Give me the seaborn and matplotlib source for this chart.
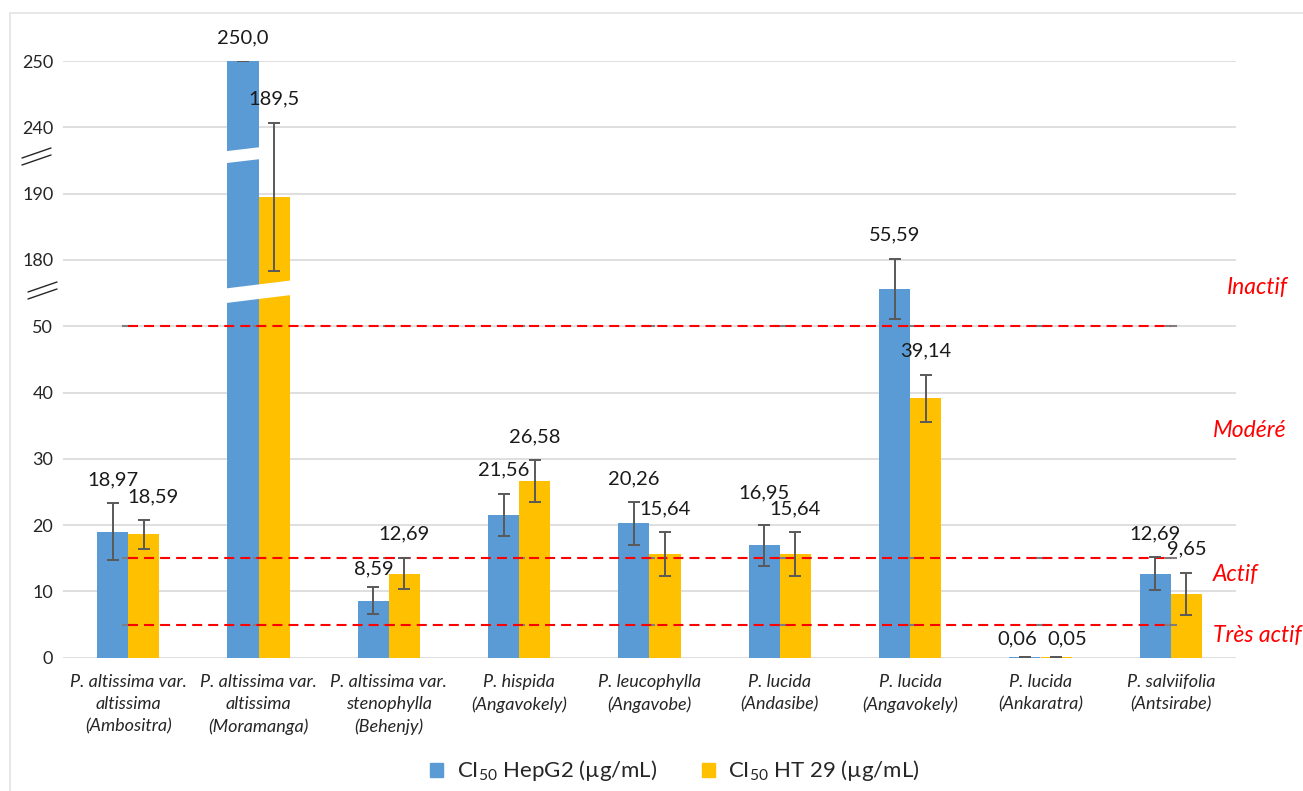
import numpy as np
import pandas as pd
import matplotlib
matplotlib.use("Agg")
import matplotlib.pyplot as plt
import seaborn as sns
from matplotlib.patches import Patch, Polygon, Rectangle
from matplotlib.lines import Line2D

# donnees
especes = [
    "P. altissima var.\naltissima\n(Ambositra)",
    "P. altissima var.\naltissima\n(Moramanga)",
    "P. altissima var.\nstenophylla\n(Behenjy)",
    "P. hispida\n(Angavokely)",
    "P. leucophylla\n(Angavobe)",
    "P. lucida\n(Andasibe)",
    "P. lucida\n(Angavokely)",
    "P. lucida\n(Ankaratra)",
    "P. salviifolia\n(Antsirabe)",
]
hepg2 = [18.97, 250.0, 8.59, 21.56, 20.26, 16.95, 55.59, 0.06, 12.69]
hepg2_err = [4.3, 0.0, 2.06, 3.17, 3.2, 3.14, 4.55, 0.0, 2.44]
ht29 = [18.59, 189.5, 12.69, 26.58, 15.64, 15.64, 39.14, 0.05, 9.65]
ht29_err = [2.15, 11.2, 2.4, 3.17, 3.27, 3.27, 3.52, 0.0, 3.14]
series = ["CI$_{50}$ HepG2 (µg/mL)", "CI$_{50}$ HT 29 (µg/mL)"]
tick_labels = ["0", "10", "20", "30", "40", "50", "180", "190", "240", "250"]
seuils = [50, 15, 5]
zones = ["Inactif", "Modéré", "Actif", "Très actif"]

BLEU = "#5B9BD5"
JAUNE = "#FFC000"
ROUGE = "#FF0000"
GRIS = "#595959"


def axe_coupe(v):
    # axe interrompu : 0-50, puis 180-190, puis 240-250
    if v <= 60:
        return v / 10
    if v < 220:
        return 6 + (v - 180) / 10
    return 8 + (v - 240) / 10


def etiquette(v):
    s = f"{v:.1f}" if v >= 100 else f"{v:.2f}"
    return s.replace(".", ",")


df = pd.DataFrame({
    "espece": especes * 2,
    "serie": [series[0]] * len(especes) + [series[1]] * len(especes),
    "valeur": hepg2 + ht29,
    "erreur": hepg2_err + ht29_err,
})
df["affiche"] = df["valeur"].apply(axe_coupe)

sns.set_style("white")
plt.rcParams["font.family"] = ["Lato", "DejaVu Sans"]
plt.rcParams["mathtext.fontset"] = "custom"
plt.rcParams["mathtext.rm"] = "Lato"
plt.rcParams["mathtext.it"] = "Lato:italic"

fig = plt.figure(figsize=(13.03, 7.91), dpi=100)
ax = fig.add_axes([63 / 1303, 133.3 / 791, 1173 / 1303, 596.7 / 791])

sns.barplot(data=df, x="espece", y="affiche", hue="serie", palette=[BLEU, JAUNE],
            width=0.476, errorbar=None, saturation=1, legend=False, linewidth=0, ax=ax)

ax.set_ylim(0, 9)
ax.set_xlim(-0.5, 8.5)
ax.set_yticks(range(10))
ax.set_yticklabels(tick_labels, fontsize=13, color="#262626")
ax.tick_params(axis="y", length=0, pad=7)
ax.tick_params(axis="x", length=0, pad=12)
for lab in ax.get_xticklabels():
    lab.set_fontstyle("italic")
    lab.set_fontsize(13)
    lab.set_color("#262626")
    lab.set_linespacing(1.45)
ax.set_xlabel("")
ax.set_ylabel("")
for s in ax.spines.values():
    s.set_visible(False)
ax.yaxis.grid(True, color="#D9D9D9", lw=1.2)
ax.set_axisbelow(True)

# coupures dans les barres de Moramanga
b_bleu = ax.containers[0][1]
b_jaune = ax.containers[1][1]
xg, xb = b_bleu.get_x(), b_bleu.get_x() + b_bleu.get_width()
xd = b_jaune.get_x() + b_jaune.get_width()
ax.add_patch(Polygon([[xg - 0.01, 7.46], [xb + 0.01, 7.52], [xb + 0.01, 7.70], [xg - 0.01, 7.64]],
                     closed=True, fc="white", ec="none", zorder=3))
ax.add_patch(Polygon([[xg - 0.01, 5.35], [xd + 0.01, 5.47], [xd + 0.01, 5.69], [xg - 0.01, 5.57]],
                     closed=True, fc="white", ec="none", zorder=3))

# seuils d'activite
centres = np.arange(len(especes))
for s in seuils:
    ax.plot(centres, [axe_coupe(s)] * len(centres), ls="none", marker="_", ms=9,
            mew=1.5, color="#7F7F7F", zorder=4)
    ax.plot([centres[0], centres[-1]], [axe_coupe(s)] * 2, color=ROUGE, lw=1.5,
            dashes=(4.8, 2.9), zorder=5)

# barres d'erreur et etiquettes (decalages en pixels)
decal = {(1, 0): (9, 0), (0, 5): (0, 8), (0, 2): (0, -5), (0, 7): (-8, -5), (1, 7): (11, -5)}
for k, (vals, errs) in enumerate([(hepg2, hepg2_err), (ht29, ht29_err)]):
    for i, bar in enumerate(ax.containers[k]):
        xc = bar.get_x() + bar.get_width() / 2
        yc = axe_coupe(vals[i])
        e = errs[i] / 10
        ax.errorbar(xc, yc, yerr=e, fmt="none", ecolor=GRIS, elinewidth=1.4,
                    capsize=4, capthick=1.4, zorder=6)
        dx, dy = decal.get((k, i), (0, 0))
        ax.annotate(etiquette(vals[i]), (xc, yc + e),
                    xytext=(dx * 0.72, 17 + dy * 0.72), textcoords="offset points",
                    ha="center", va="center", fontsize=14.5, color="#1A1A1A",
                    annotation_clip=False, zorder=7)

# noms des zones
pos_zones = [(8.43, 5.59), (8.32, 3.43), (8.32, 1.25), (8.32, 0.33)]
for z, (xz, yz) in zip(zones, pos_zones):
    ax.text(xz, yz, z, color=ROUGE, fontsize=16.5, fontstyle="italic",
            ha="left", va="center", clip_on=False)

# marques de coupure sur l'axe
for y0 in (158, 292):
    for dy in (0, 7):
        x0 = 22 if y0 == 158 else 28
        fig.add_artist(Line2D([x0 / 1303, (x0 + 29) / 1303],
                              [1 - (y0 + dy) / 791, 1 - (y0 + dy - 10) / 791],
                              transform=fig.transFigure, color="#262626", lw=1))

# cadre du graphique
fig.add_artist(Rectangle((10 / 1303, -0.05), 1.0, 1.05 - 13 / 791, transform=fig.transFigure,
                         fill=False, ec="#E3E3E3", lw=1.2))

poignees = [Patch(color=BLEU), Patch(color=JAUNE)]
fig.legend(poignees, series, loc="center", bbox_to_anchor=(0.518, 0.0253), ncol=2,
           frameon=False, fontsize=16, handlelength=0.6, handleheight=0.6,
           handletextpad=0.6, columnspacing=2.0, labelcolor="#262626")

fig.savefig("out.png", dpi=100)
